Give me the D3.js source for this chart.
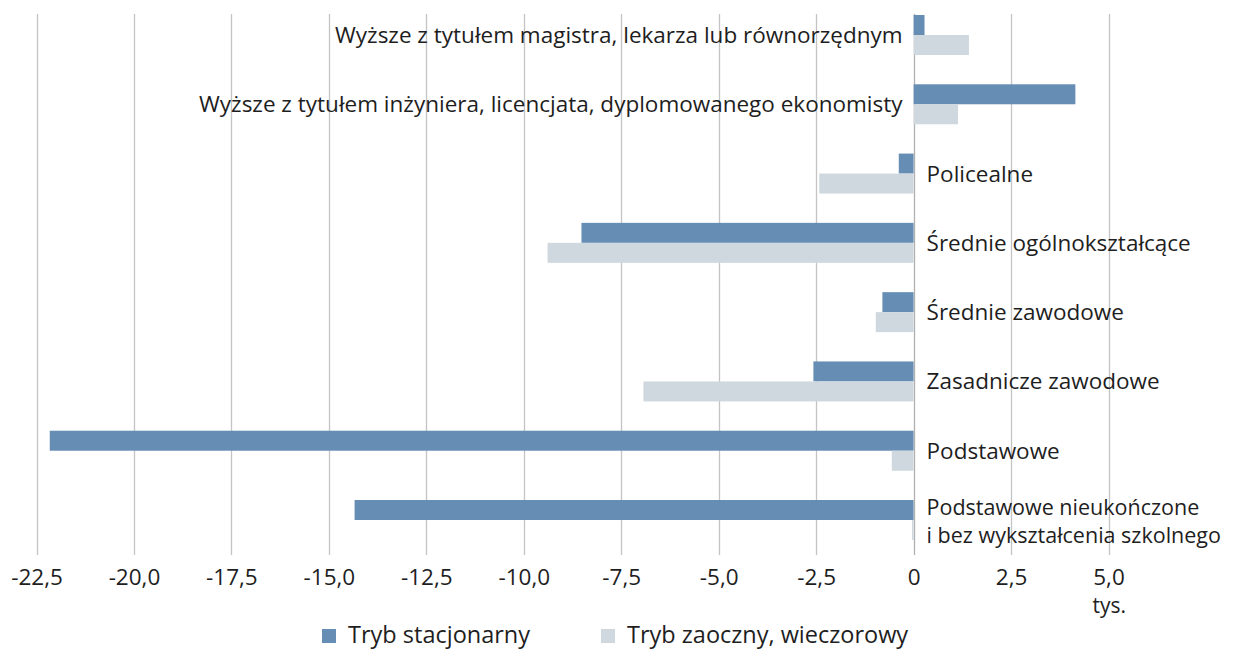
<!DOCTYPE html>
<html><head><meta charset="utf-8">
<script src="https://cdn.jsdelivr.net/npm/d3@7"></script>
<style>body{margin:0;background:#fff}svg{display:block}text{font-family:"Open Sans",sans-serif;fill:#1e1e1e}</style>
</head><body>
<svg id="c" width="1247" height="650"></svg>
<script>
const categories = [
  ["Wyższe z tytułem magistra, lekarza lub równorzędnym"],
  ["Wyższe z tytułem inżyniera, licencjata, dyplomowanego ekonomisty"],
  ["Policealne"],
  ["Średnie ogólnokształcące"],
  ["Średnie zawodowe"],
  ["Zasadnicze zawodowe"],
  ["Podstawowe"],
  ["Podstawowe nieukończone", "i bez wykształcenia szkolnego"]
];
const seriesNames = ["Tryb stacjonarny", "Tryb zaoczny, wieczorowy"];
const stacjonarny = [0.28, 4.15, -0.38, -8.52, -0.80, -2.57, -22.16, -14.34];
const zaoczny = [1.42, 1.14, -2.42, -9.39, -0.97, -6.93, -0.56, -0.04];
const tickValues = [-22.5, -20, -17.5, -15, -12.5, -10, -7.5, -5, -2.5, 0, 2.5, 5];
const tickLabels = ["-22,5","-20,0","-17,5","-15,0","-12,5","-10,0","-7,5","-5,0","-2,5","0","2,5","5,0"];
const unitLabel = "tys.";
const colors = ["#668db3", "#cfd8de"];

const svg = d3.select("#c");
const x = d3.scaleLinear().domain([-22.5, 5]).range([36.5, 1108.5]);
const idx = d3.range(categories.length);
const y = d3.scaleBand().domain(idx).range([0, 555]).paddingInner(0.423).paddingOuter(0.2165);
const ys = d3.scaleBand().domain([0, 1]).range([0, y.bandwidth()]);

// gridlines
svg.append("g").selectAll("line").data(tickValues).join("line")
  .attr("x1", d => Math.round(x(d)) + 0.5).attr("x2", d => Math.round(x(d)) + 0.5)
  .attr("y1", 14).attr("y2", 555)
  .attr("stroke", d => d === 0 ? "#b0b0b0" : "#c4c4c4").attr("stroke-width", 1.3);

// bars
const series = [stacjonarny, zaoczny];
series.forEach((vals, s) => {
  svg.append("g").selectAll("rect").data(idx).join("rect")
    .attr("x", i => x(Math.min(0, vals[i])))
    .attr("width", i => Math.max(1, Math.abs(x(vals[i]) - x(0))))
    .attr("y", i => y(i) + ys(s))
    .attr("height", ys.bandwidth())
    .attr("fill", colors[s]);
});

// category labels
const lg = svg.append("g");
idx.forEach(i => {
  const pos = stacjonarny[i] >= 0;
  const lines = categories[i];
  const multi = lines.length > 1;
  const fs = multi ? 21.5 : 22.5;
  const gap = multi ? 28 : 0;
  const cy = y(i) + y.bandwidth() / 2;
  const lx = pos ? x(0) - 11 : x(0) + 13;
  lines.forEach((ln, k) => {
    lg.append("text")
      .attr("text-anchor", pos ? "end" : "start")
      .attr("font-size", fs)
      .attr("x", lx)
      .attr("y", cy + 8 + (k - (lines.length - 1) / 2) * gap + (multi ? 1 : 0))
      .text(ln);
  });
});

// axis tick labels
const ax = svg.append("g").attr("transform", "translate(0,585)");
const axis = d3.axisBottom(x).tickValues(tickValues).tickFormat((d, i) => tickLabels[i]).tickSize(0).tickPadding(0);
ax.call(axis);
ax.select(".domain").remove();
ax.selectAll("text").attr("font-size", 22.5).attr("font-family", "Open Sans").attr("fill", "#1e1e1e").attr("dy", 0);
svg.append("text").attr("x", x(5) - 16).attr("y", 613).attr("font-size", 21).text(unitLabel);

// legend
const leg = svg.append("g");
const legX = [322, 601];
seriesNames.forEach((n, s) => {
  leg.append("rect").attr("x", legX[s]).attr("y", 629).attr("width", 14).attr("height", 14).attr("fill", colors[s]);
  leg.append("text").attr("x", legX[s] + 26).attr("y", 643).attr("font-size", 23.5).text(n);
});
</script>
</body></html>
